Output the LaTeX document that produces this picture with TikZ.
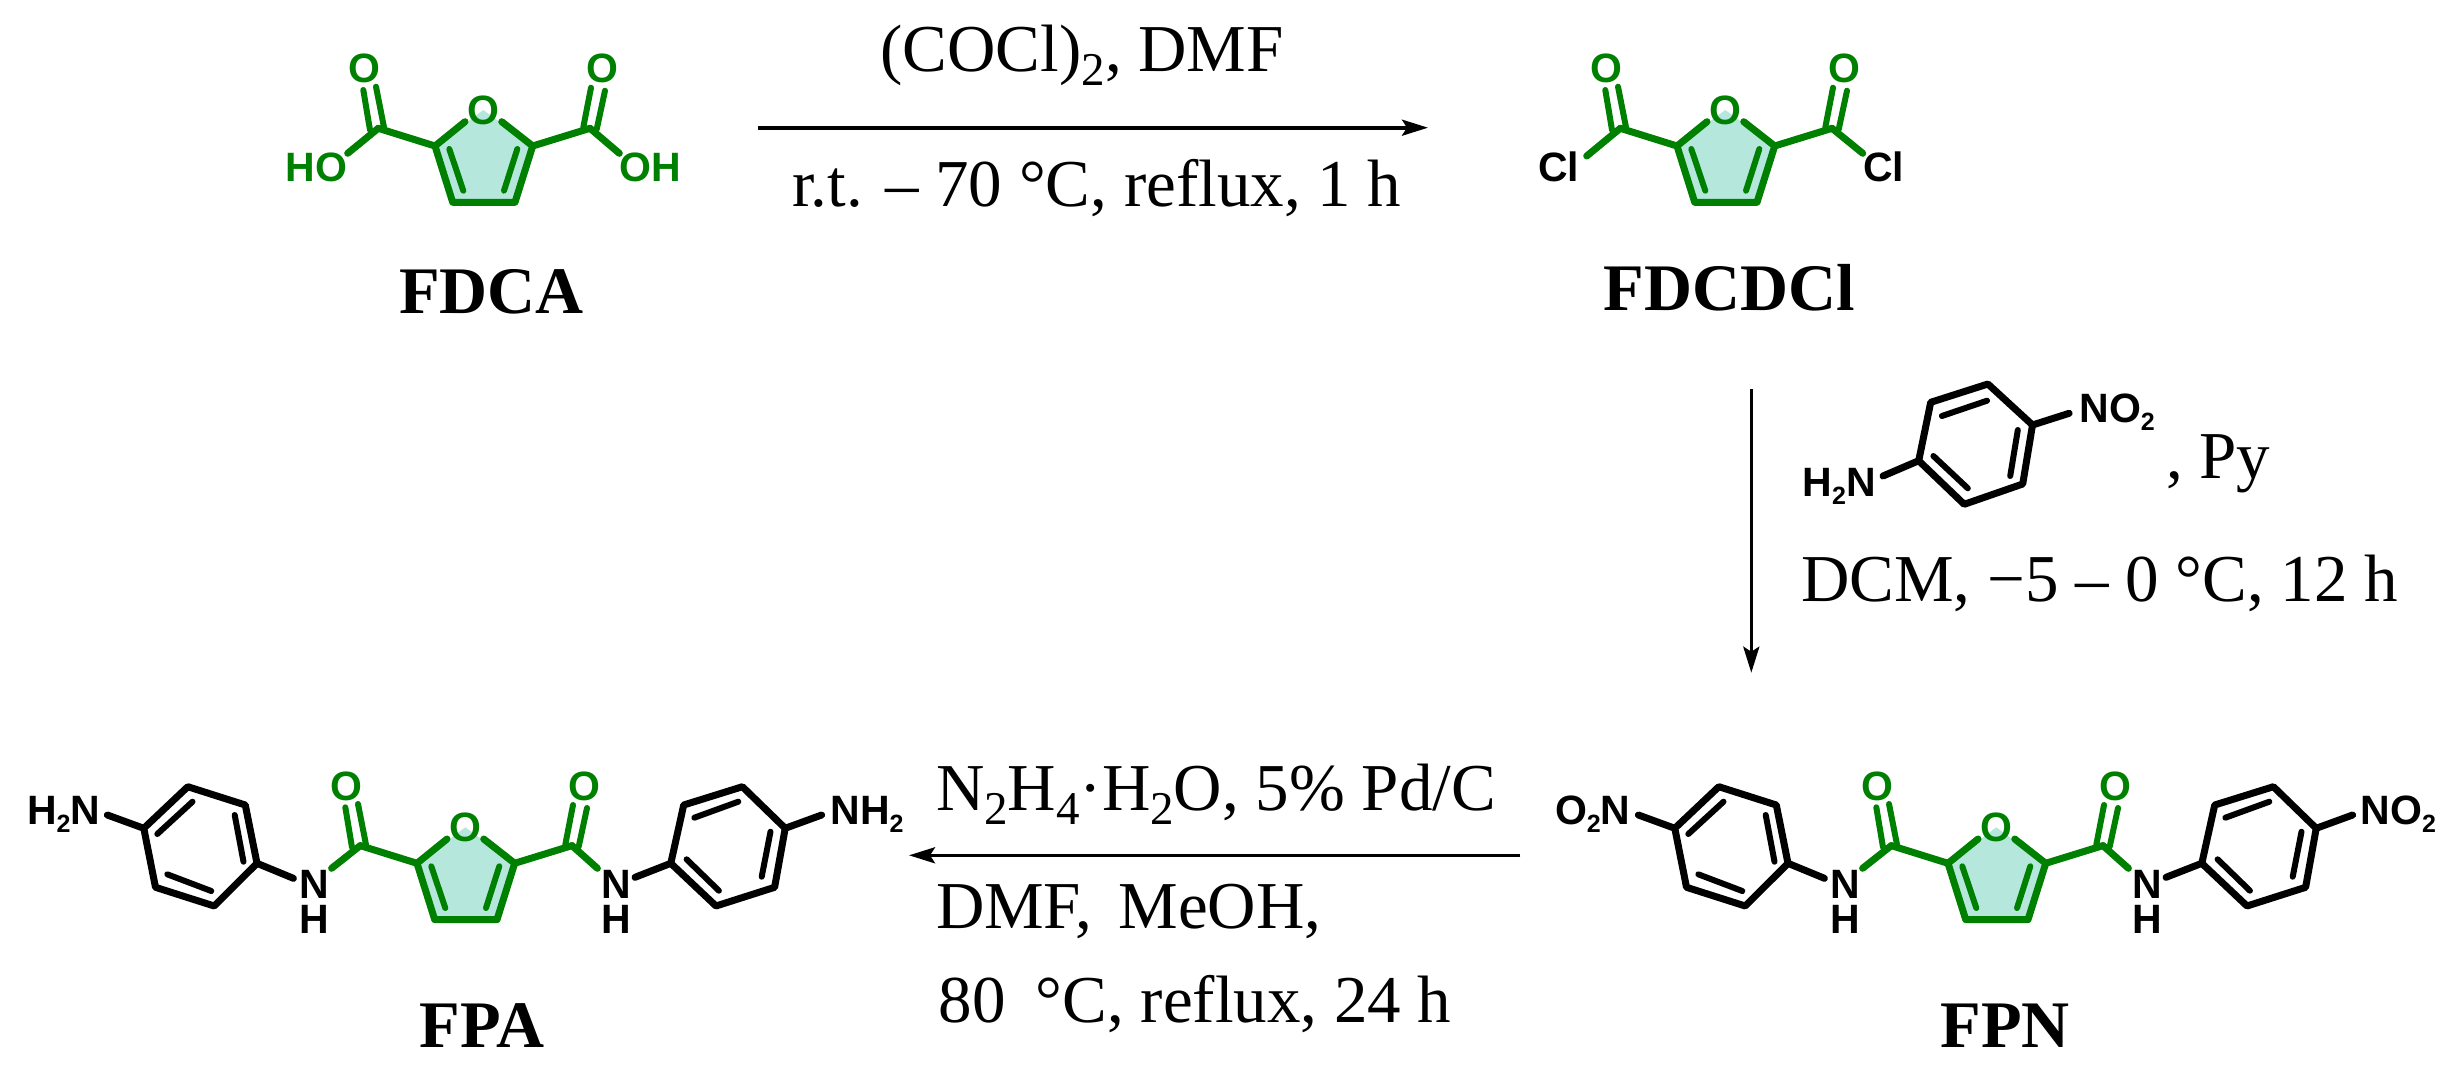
\documentclass[tikz,border=0pt]{standalone}
\usepackage{fontspec}
\usetikzlibrary{arrows.meta,calc}
\setmainfont{Liberation Serif}
\newfontfamily\chemfont{Liberation Sans}[BoldFont={Liberation Sans Bold}]
\definecolor{fgreen}{RGB}{0,128,0}
\definecolor{fteal}{RGB}{181,231,220}
\newcommand{\lowtx}[1]{\raisebox{-14pt}{\fontsize{47}{50}\selectfont #1}}
\newcommand{\lowch}[1]{\raisebox{-8pt}{\fontsize{25}{28}\selectfont\bfseries #1}}
\tikzset{
  bond/.style={line width=7pt,line cap=round,line join=round},
  inbond/.style={line width=6pt,line cap=round},
  atom/.style={inner sep=0pt,outer sep=0pt,anchor=base,font=\chemfont\bfseries\fontsize{41}{44}\selectfont},
  txt/.style={inner sep=0pt,outer sep=0pt,anchor=base west,font=\fontsize{67}{70}\selectfont},
  lab/.style={inner sep=0pt,outer sep=0pt,anchor=base,font=\bfseries\fontsize{66.5}{70}\selectfont},
  rxn/.style={line width=3.6pt,-{Stealth[length=26pt,width=16pt,inset=5pt]}},
}
% furan-2,5-dicarbonyl core, in FDCA's coordinates; #1 shift, #2 name prefix
\newcommand{\fcore}[2]{%
\begin{scope}[shift={(#1)}]
  \fill[fteal] (435,146) -- (483.3,110) -- (532.7,146) -- (515,202.3) -- (452.7,202.3) -- cycle;
  \node[atom,text=fgreen] (#2-Or) at (483.3,124) {O};
  \node[atom,text=fgreen] (#2-Ol) at (364,82.7) {O};
  \node[atom,text=fgreen] (#2-Orr) at (602.3,82.7) {O};
  \draw[bond,fgreen] (465,121.7) -- (435,146) -- (452.7,202.3) -- (515,202.3) -- (532.7,146) -- (501.7,121.7);
  \draw[inbond,fgreen] (449.3,149) -- (463.3,190.7);
  \draw[inbond,fgreen] (517.3,149) -- (504,190.7);
  \draw[bond,fgreen] (435,146) -- (378.3,128.3);
  \draw[bond,fgreen] (532.7,146) -- (590,128.3);
  \draw[inbond,fgreen] (363.3,90) -- (370,130);
  \draw[inbond,fgreen] (376,86.7) -- (384,127.3);
  \draw[inbond,fgreen] (591,87.7) -- (583.3,127.3);
  \draw[inbond,fgreen] (605,90.7) -- (596.7,129.3);
\end{scope}}
% bis(aryl)amide, in FPA's coordinates; #1 shift, #2 name prefix, #3 left text, #4 right text, #5 left x, #6 right x
\newcommand{\bisaryl}[6]{%
\fcore{$(#1)+(-18,717.3)$}{#2}
\begin{scope}[shift={(#1)}]
  \node[atom] (#2-xl) at (#5,824.3) {#3};
  \node[atom] (#2-xr) at (#6,824.3) {#4};
  \node[atom] (#2-Nl) at (314,898.3) {N};
  \node[atom] (#2-Hl) at (314,933.3) {H};
  \node[atom] (#2-Nr) at (616,898.3) {N};
  \node[atom] (#2-Hr) at (616,933.3) {H};
  \draw[bond,fgreen] (331.6,868.3) -- (360.3,845.6);
  \draw[bond,fgreen] (597.4,868.3) -- (572,845.6);
  \draw[bond] (107.4,815) -- (143.8,828.3) -- (187.8,786.7) -- (245.3,805) -- (257,863.3) -- (214.2,906) -- (155.5,887.3) -- (143.8,828.3);
  \draw[inbond] (157.3,834) -- (192.5,801.7);
  \draw[inbond] (243.5,861.7) -- (234.7,815);
  \draw[inbond] (167.3,874.3) -- (211.3,891);
  \draw[bond] (257,863.3) -- (293.4,878.3);
  \draw[bond] (821.6,815) -- (785.2,828.3) -- (742.4,786.7) -- (683.7,805) -- (670.8,863.3) -- (716,906) -- (774.6,887.3) -- (785.2,828.3);
  \draw[inbond] (694.3,817.7) -- (738.3,801.7);
  \draw[inbond] (761.7,876.7) -- (770.5,831.7);
  \draw[inbond] (686.6,859.3) -- (718.9,890.7);
  \draw[bond] (670.8,863.3) -- (635,877.3);
\end{scope}}
\begin{document}
\begin{tikzpicture}[x=1pt,y=-1pt]
\useasboundingbox (0,0) rectangle (2459,1076);
% FDCA
\fcore{0,0}{fdca}
\node[atom,text=fgreen] (fdca-ho) at (316.7,181.7) {HO};
\node[atom,text=fgreen] (fdca-oh) at (650,181.7) {OH};
\draw[bond,fgreen] (378.3,128.3) -- (347.7,153.3);
\draw[bond,fgreen] (590,128.3) -- (619.3,153.3);
\node[lab] (fdcaL) at (491.5,313.3) {FDCA};
% FDCDCl
\fcore{1242,0}{fdc}
\node[atom] (fdc-cll) at (1558.5,181.7) {Cl};
\node[atom] (fdc-clr) at (1883.5,181.7) {Cl};
\draw[bond,fgreen] (1620.3,128.3) -- (1586.7,156);
\draw[bond,fgreen] (1832,128.3) -- (1862.7,153.3);
\node[lab] (fdcL) at (1729.5,310.7) {FDCDCl};
% FPA / FPN
\bisaryl{0,0}{fpa}{H\lowch{2}N}{NH\lowch{2}}{63.7}{867}
\node[lab] (fpaL) at (482,1047.3) {FPA};
\bisaryl{1531,0}{fpn}{O\lowch{2}N}{NO\lowch{2}}{61.7}{867.3}
\node[lab] (fpnL) at (2005,1047.3) {FPN};
% reagent
\draw[bond] (2069.1,413.3) -- (2032.5,425) -- (1987.9,384) -- (1930.7,402.3) -- (1918.7,460.7) -- (1964.2,504.3) -- (2022.7,484) -- (2032.5,425);
\draw[bond] (1918.7,460.7) -- (1883,476);
\draw[inbond] (1941.9,416) -- (1987,400.7);
\draw[inbond] (2010.2,476) -- (2017.8,430);
\draw[inbond] (1933.4,456) -- (1967.8,488.3);
\node[atom,anchor=base west] (rgN) at (2079.4,422.7) {NO\lowch{2}};
\node[atom,anchor=base west] (rgH) at (1802.6,496) {H\lowch{2}N};
\node[txt] (rgPy) at (2166,478.3) {, Py};
\node[txt] (rgD) at (1801.3,601.7) {DCM, −5 – 0 °C, 12 h};
% arrows
\coordinate (a1s) at (757.5,127.7);
\coordinate (a1e) at (1428,127.7);
\coordinate (a2s) at (1751.3,389);
\coordinate (a2e) at (1751.3,672.7);
\coordinate (a3s) at (1520.4,855.3);
\coordinate (a3e) at (909,855.3);
\draw[rxn] (a1s) -- (a1e);
\draw[rxn] (a2s) -- (a2e);
\draw[rxn] (a3s) -- (a3e);
% conditions
\node[txt] (t1) at (880.6,71.7) {(COCl)\lowtx{2}, DMF};
\node[txt] (t2) at (792,206.7) {r.t. – 70 °C, reflux, 1 h};
\node[txt] (t3) at (936,810) {N\lowtx{2}H\lowtx{4}·H\lowtx{2}O, 5\% Pd/C};
\node[txt] (t4) at (936,928.7) {DMF,\hspace{26pt}MeOH,};
\node[txt] (t5) at (938.8,1022.7) {80\hspace{30pt}°C, reflux, 24 h};
\end{tikzpicture}
\end{document}
